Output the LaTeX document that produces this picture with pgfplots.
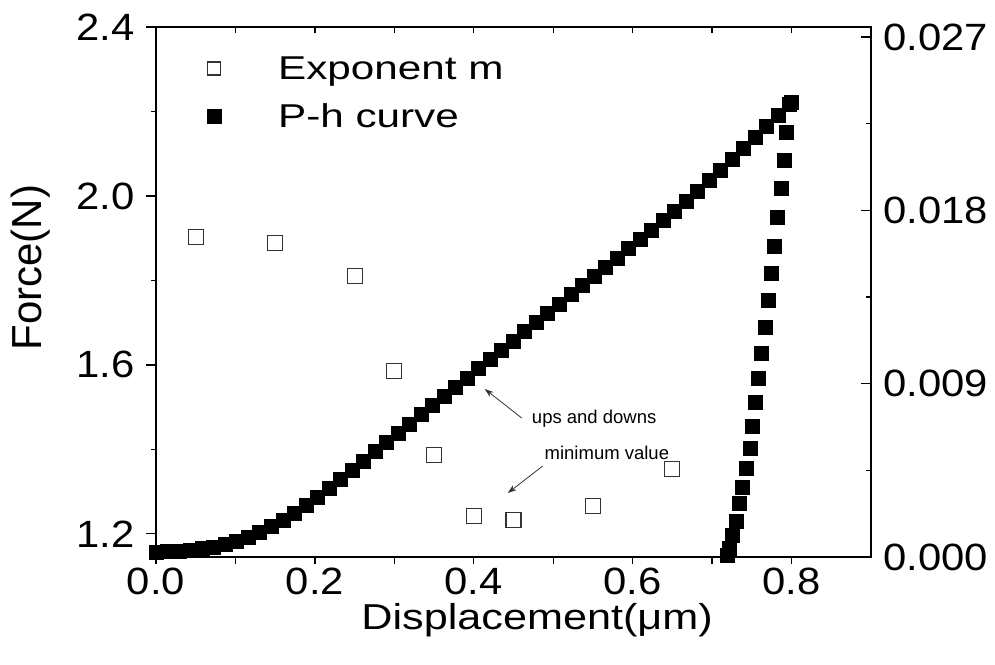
\documentclass[border=0pt]{standalone}
\usepackage{fontspec}
\setmainfont{Liberation Sans}
\newfontfamily\tickfont{Liberation Sans}[FakeStretch=1.1]
\newfontfamily\labfont{Liberation Sans}[FakeStretch=1.2]
\newfontfamily\legfont{Liberation Sans}[FakeStretch=1.28]
\usepackage{pgfplots}
\pgfplotsset{compat=1.18}
\usetikzlibrary{arrows.meta}
\pgfplotsset{common/.style={
  scale only axis, width=715pt, height=530pt, xmin=0, xmax=0.9,
  axis line style={line width=1.6pt, -, line cap=rect},
  tick style={line width=1.4pt, black},
  tick label style={font=\tickfont\fontsize{38}{42}\selectfont},
  /pgf/number format/assume math mode=true,
  /pgf/number format/fixed, /pgf/number format/fixed zerofill,
}}
\begin{document}
\begin{tikzpicture}
\path[use as bounding box] (-156pt,-107pt) rectangle (839pt,557pt);
% bottom x axis
\begin{axis}[common, ymin=1.145, ymax=2.4,
  axis x line*=bottom, hide y axis, tick align=outside,
  major tick length=7pt, minor tick length=7pt,
  xtick={0,0.2,0.4,0.6,0.8}, minor xtick={0.1,0.3,0.5,0.7},
  /pgf/number format/precision=1,
  xticklabel style={inner sep=0pt, yshift=-4pt},
  xlabel={Displacement(μm)},
  xlabel style={at={(axis description cs:0.533,-0.136)}, anchor=base, font=\labfont\fontsize{36}{40}\selectfont},
]
\end{axis}
% left y axis with exponent m
\begin{axis}[common, ymin=1.145, ymax=2.4,
  axis y line*=left, hide x axis, tick align=outside,
  major tick length=10pt, minor tick length=5pt,
  ytick={1.2,1.6,2.0,2.4}, minor ytick={1.4,1.8,2.2},
  /pgf/number format/precision=1,
  yticklabel style={inner sep=0pt, xshift=-11pt},
  ylabel={Force(N)},
  ylabel style={at={(axis description cs:-0.176,0.546)}, anchor=center, font=\fontsize{42}{46}\selectfont},
]
\addplot[only marks, mark=square, mark size=7.5pt, mark options={draw=black!80, line width=1.1pt, fill=white}] coordinates {
(0.05,1.903) (0.15,1.889) (0.25,1.810) (0.30,1.585) (0.35,1.387)
(0.40,1.242) (0.45,1.233) (0.55,1.266) (0.65,1.353)
};
\draw[-{Stealth[length=9pt,width=6pt]}, line width=0.8pt, black!80] (axis cs:0.4604,1.4741) -- (axis cs:0.4138,1.5428);
\node[anchor=west, inner sep=0pt, font=\fontsize{18.5}{20}\selectfont] at (axis cs:0.473,1.472) {ups and downs};
\draw[-{Stealth[length=9pt,width=6pt]}, line width=0.8pt, black!80] (axis cs:0.4868,1.3604) -- (axis cs:0.4428,1.2965);
\node[anchor=west, inner sep=0pt, font=\fontsize{18.5}{20}\selectfont] at (axis cs:0.489,1.391) {minimum value};
\end{axis}
% top x axis
\begin{axis}[common, ymin=0, ymax=0.02752,
  axis x line*=top, hide y axis, tick align=inside,
  major tick length=6pt,
  xtick={0,0.1,0.2,0.3,0.4,0.5,0.6,0.7,0.8}, xticklabels={},
]
\end{axis}
% right y axis with P-h curve
\begin{axis}[common, ymin=0, ymax=0.02752,
  axis y line*=right, hide x axis, tick align=inside,
  major tick length=10pt, minor tick length=5pt,
  ytick={0,0.009,0.018,0.027}, minor ytick={0.0045,0.0135,0.0225},
  scaled y ticks=false,
  /pgf/number format/precision=3,
  yticklabel style={inner sep=0pt, xshift=12pt},
  legend image code/.code={\draw[#1] plot coordinates {(0pt,0pt)};},
  legend style={draw=none, fill=none, at={(0.067,0.9525)}, anchor=north west,
    font=\legfont\fontsize{33}{37}\selectfont, row sep=19pt, nodes={inner sep=2pt},
    /tikz/every odd column/.append style={column sep=55pt}},
  legend cell align=left,
]
\addlegendimage{only marks, mark=square, mark size=6.5pt, mark options={draw=black!80, line width=1.1pt, fill=white}}
\addlegendentry{Exponent m}
\addplot[only marks, mark=square*, mark size=7pt, black] coordinates {
(0.0000,0.00026) (0.0145,0.00028) (0.0290,0.00032) (0.0435,0.00036) (0.0580,0.00044)
(0.0725,0.00053) (0.0870,0.00067) (0.1015,0.00084) (0.1160,0.00105) (0.1305,0.00129)
(0.1450,0.00159) (0.1595,0.00193) (0.1740,0.00228) (0.1885,0.00268) (0.2030,0.00312)
(0.2175,0.00357) (0.2320,0.00404) (0.2465,0.00452) (0.2610,0.00500) (0.2755,0.00548)
(0.2900,0.00596) (0.3045,0.00644) (0.3190,0.00692) (0.3335,0.00739) (0.3480,0.00788)
(0.3625,0.00835) (0.3770,0.00883) (0.3915,0.00931) (0.4060,0.00979) (0.4205,0.01027)
(0.4350,0.01075) (0.4495,0.01123) (0.4640,0.01170) (0.4785,0.01218) (0.4930,0.01266)
(0.5075,0.01314) (0.5220,0.01362) (0.5365,0.01410) (0.5510,0.01457) (0.5655,0.01506)
(0.5800,0.01553) (0.5945,0.01601) (0.6090,0.01649) (0.6235,0.01697) (0.6380,0.01747)
(0.6525,0.01797) (0.6670,0.01849) (0.6815,0.01900) (0.6960,0.01956) (0.7105,0.02011)
(0.7250,0.02066) (0.7395,0.02122) (0.7540,0.02179) (0.7685,0.02236) (0.7830,0.02294)
(0.7970,0.02352) (0.8000,0.02360)
(0.7937,0.02207) (0.7912,0.02061) (0.7874,0.01916) (0.7824,0.01765) (0.7786,0.01615)
(0.7748,0.01475) (0.7711,0.01334) (0.7673,0.01194) (0.7623,0.01059) (0.7585,0.00929)
(0.7547,0.00805) (0.7509,0.00680) (0.7484,0.00566) (0.7434,0.00462) (0.7384,0.00363)
(0.7346,0.00280) (0.7308,0.00187) (0.7258,0.00114) (0.7220,0.00047) (0.7195,0.00010)
};
\addlegendentry{P-h curve}
\end{axis}
\end{tikzpicture}
\end{document}
